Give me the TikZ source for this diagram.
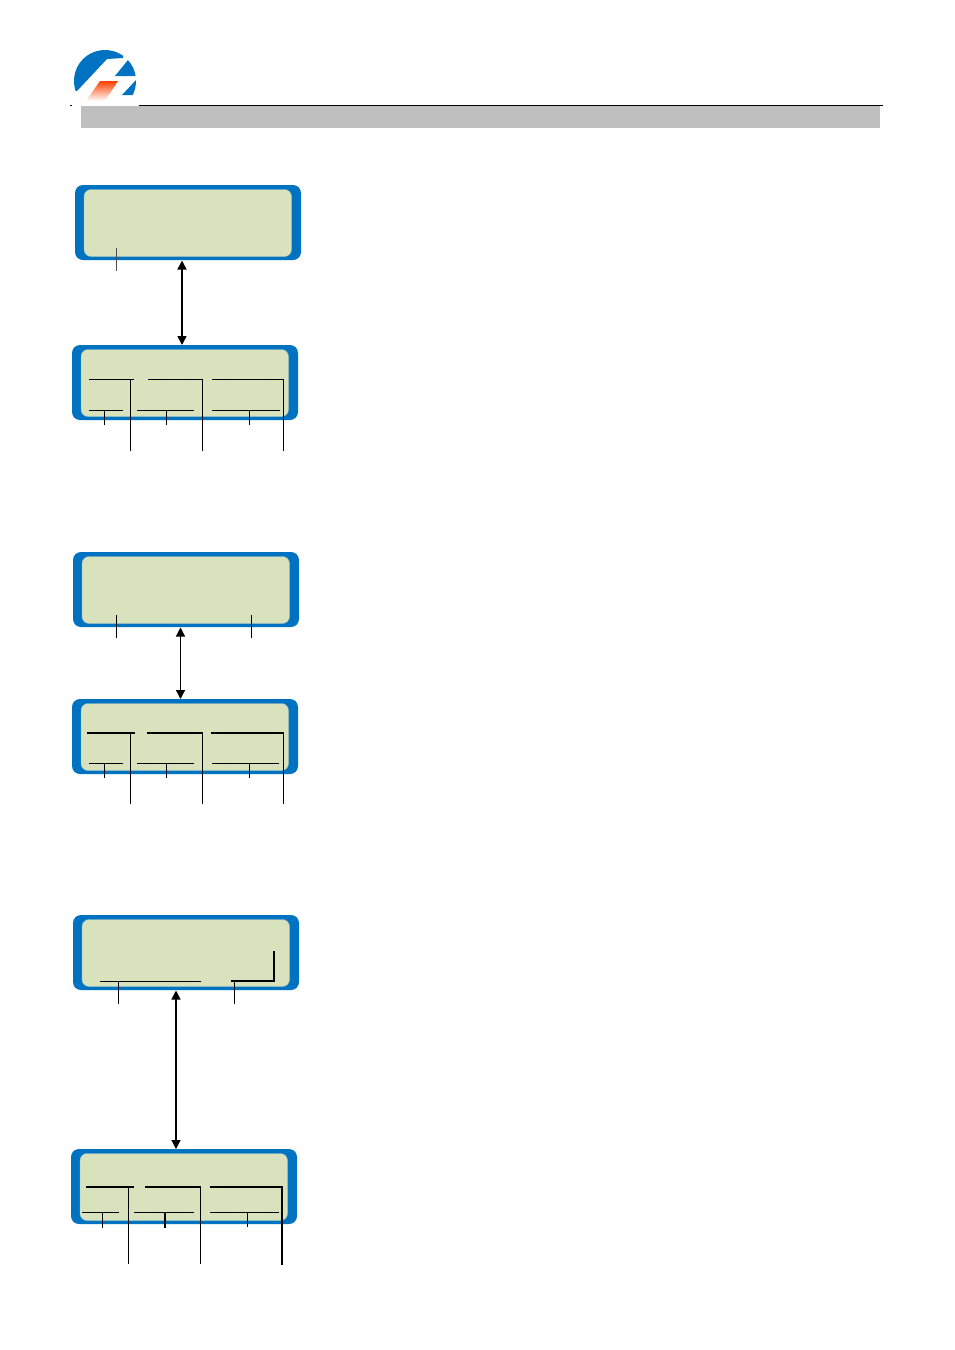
\documentclass[tikz,border=0pt]{standalone}
\usepackage{tikz}
\usetikzlibrary{arrows.meta}

\definecolor{lcdblue}{RGB}{0,114,194}
\definecolor{lcdgreen}{RGB}{216,226,189}
\definecolor{headgray}{RGB}{191,191,191}

\tikzset{
  lcdouter/.style={fill=lcdblue, rounded corners=8pt},
  lcdinner/.style={fill=lcdgreen, draw=lcdblue!30!lcdgreen, line width=0.4pt, rounded corners=7pt},
  leader/.style={draw=black, line width=0.9pt, line cap=rect},
  linkarrow/.style={{Triangle[length=9pt,width=9pt]}-{Triangle[length=9pt,width=9pt]}, line width=1.5pt}
}

% one display: blue case with green glass, #1 = name, (#2,#3) = top left corner
\newcommand{\lcdpanel}[3]{
  \path [lcdouter] (#2,#3) rectangle ++(226,75);
  \path [lcdinner] (#2+9,#3+4.5) rectangle ++(207.5,67);
  \coordinate (#1) at (#2,#3);
}

\begin{document}
\begin{tikzpicture}[x=1pt,y=-1pt]

 \useasboundingbox (0,0) rectangle (955,1350);

 % Header rule and grey bar
 \fill [headgray] (81,106) rectangle (880,128);
 \draw [black, line width=0.8pt] (70,105) -- (72,105);
 \draw [black, line width=0.8pt] (139,105) -- (883,105);

 % Logo
 \begin{scope}
  \clip (105,81) circle (31);
  \fill [lcdblue] (70,45) -- (125,45) -- (123,58) -- (107,59) -- (77,91) -- (70,91) -- cycle;
  \fill [lcdblue] (128,60) -- (140,60) -- (140,76) -- (115,76) -- cycle;
  \fill [lcdblue] (136,80) -- (140,80) -- (140,95) -- (122,95) -- cycle;
 \end{scope}
 \shade [top color=orange!50!red, middle color=orange!80!red, bottom color=white]
   (100,81) -- (118,81) -- (105,101) -- (86,101) -- cycle;

 % First pair of displays
 \lcdpanel{lcdA}{75}{185}
 \lcdpanel{lcdB}{72}{345}
 \coordinate (linkAtop) at (182,260.5);
 \coordinate (linkAbot) at (182,345);
 \draw [linkarrow] (linkAtop) -- (linkAbot);
 \draw [leader, draw=black!70] (116,248) -- (116,271);

 % labels of the lower display
 \draw [leader] (89,379) -- (134,379);
 \draw [leader] (130,379) -- (130,451);
 \draw [leader] (148,379) -- (202,379) -- (202,451);
 \draw [leader] (212,379) -- (283,379) -- (283,451);
 \draw [leader] (89,410) -- (123,410);
 \draw [leader] (137,410) -- (194,410);
 \draw [leader] (212,410) -- (280,410);
 \draw [leader] (104,410) -- (104,425);
 \draw [leader] (166,410) -- (166,425);
 \draw [leader] (249,410) -- (249,425);

 % Second pair of displays
 \lcdpanel{lcdC}{73}{552}
 \lcdpanel{lcdD}{72}{699}
 \coordinate (linkCtop) at (180.5,627.5);
 \coordinate (linkCbot) at (180.5,699);
 \draw [linkarrow, line width=1.2pt] (linkCtop) -- (linkCbot);
 \draw [leader] (116,615) -- (116,638);
 \draw [leader] (251.5,615) -- (251.5,638);

 % labels of the lower display
 \draw [leader, line width=1.3pt] (88,733) -- (134,733);
 \draw [leader] (130,733) -- (130,804);
 \draw [leader, line width=1.3pt] (148,733) -- (202,733);
 \draw [leader] (202,733) -- (202,804);
 \draw [leader, line width=1.3pt] (212,733) -- (283,733);
 \draw [leader] (283,733) -- (283,804);
 \draw [leader] (89,763) -- (123,763);
 \draw [leader] (137,763) -- (194,763);
 \draw [leader] (212,763) -- (279,763);
 \draw [leader] (104,763) -- (104,778);
 \draw [leader] (166,763) -- (166,778);
 \draw [leader] (249,763) -- (249,778);

 % Third pair of displays
 \lcdpanel{lcdE}{73}{915}
 \lcdpanel{lcdF}{71}{1149}
 \coordinate (linkEtop) at (176,990.5);
 \coordinate (linkEbot) at (176,1149);
 \draw [linkarrow, line width=1.2pt] (linkEtop) -- (linkEbot);
 \draw [leader] (100,981) -- (201,981);
 \draw [leader] (118,981) -- (118,1004);
 \draw [leader, line width=1.2pt] (232,981) -- (274,981) -- (274,952);
 \draw [leader] (234,981) -- (234,1004);

 % labels of the lower display
 \draw [leader, line width=1.4pt] (87,1187) -- (133,1187);
 \draw [leader] (128,1187) -- (128,1264);
 \draw [leader, line width=1.4pt] (146,1187) -- (200.5,1187);
 \draw [leader] (200.5,1187) -- (200.5,1264);
 \draw [leader, line width=1.4pt] (211,1187) -- (282,1187) -- (282,1264);
 \draw [leader, line width=1.2pt] (83,1212.5) -- (118,1212.5);
 \draw [leader, line width=1.2pt] (135,1212.5) -- (193,1212.5);
 \draw [leader, line width=1.2pt] (211,1212.5) -- (278,1212.5);
 \draw [leader] (102,1212.5) -- (102,1228);
 \draw [leader, line width=1.5pt] (165,1212.5) -- (165,1227);
 \draw [leader, line width=0.7pt] (247,1212.5) -- (247,1227);

\end{tikzpicture}
\end{document}
